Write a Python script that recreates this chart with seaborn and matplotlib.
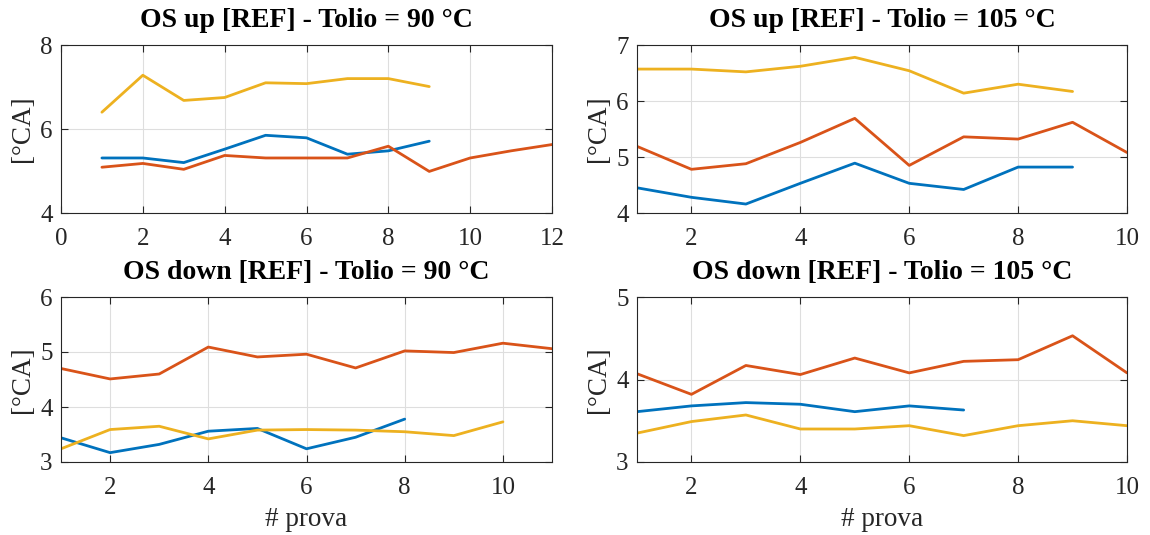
import numpy as np
import pandas as pd
import matplotlib
matplotlib.use("Agg")
import matplotlib.pyplot as plt
import seaborn as sns

# ---- data: crank-angle offsets per test run ----
# OS up, Tolio = 90 °C
up90_s1 = [5.31, 5.31, 5.20, 5.52, 5.85, 5.79, 5.40, 5.48, 5.71]
up90_s2 = [5.09, 5.18, 5.04, 5.37, 5.31, 5.31, 5.31, 5.59, 4.99, 5.31, 5.48, 5.63]
up90_s3 = [6.40, 7.28, 6.68, 6.75, 7.10, 7.08, 7.20, 7.20, 7.01]

# OS up, Tolio = 105 °C
up105_s1 = [4.45, 4.28, 4.16, 4.53, 4.89, 4.53, 4.42, 4.82, 4.82]
up105_s2 = [5.19, 4.78, 4.88, 5.26, 5.69, 4.85, 5.36, 5.32, 5.62, 5.08]
up105_s3 = [6.57, 6.57, 6.52, 6.62, 6.78, 6.54, 6.14, 6.30, 6.17]

# OS down, Tolio = 90 °C
dn90_s1 = [3.44, 3.17, 3.32, 3.56, 3.61, 3.24, 3.45, 3.78]
dn90_s2 = [4.70, 4.51, 4.60, 5.09, 4.91, 4.96, 4.71, 5.02, 4.99, 5.16, 5.06]
dn90_s3 = [3.24, 3.59, 3.65, 3.42, 3.58, 3.59, 3.58, 3.55, 3.48, 3.73]

# OS down, Tolio = 105 °C
dn105_s1 = [3.61, 3.68, 3.72, 3.70, 3.61, 3.68, 3.63]
dn105_s2 = [4.07, 3.82, 4.17, 4.06, 4.26, 4.08, 4.22, 4.24, 4.53, 4.08]
dn105_s3 = [3.35, 3.49, 3.57, 3.40, 3.40, 3.44, 3.32, 3.44, 3.50, 3.44]

titles = ["OS up [REF] - Tolio = 90 °C", "OS up [REF] - Tolio = 105 °C",
          "OS down [REF] - Tolio = 90 °C", "OS down [REF] - Tolio = 105 °C"]
xlabel = "# prova"
ylabel = "[°CA]"

panels = [
    dict(series=[up90_s1, up90_s2, up90_s3], xlim=(0, 12), xticks=[0, 2, 4, 6, 8, 10, 12],
         ylim=(4, 8), yticks=[4, 6, 8]),
    dict(series=[up105_s1, up105_s2, up105_s3], xlim=(1, 10), xticks=[2, 4, 6, 8, 10],
         ylim=(4, 7), yticks=[4, 5, 6, 7]),
    dict(series=[dn90_s1, dn90_s2, dn90_s3], xlim=(1, 11), xticks=[2, 4, 6, 8, 10],
         ylim=(3, 6), yticks=[3, 4, 5, 6]),
    dict(series=[dn105_s1, dn105_s2, dn105_s3], xlim=(1, 10), xticks=[2, 4, 6, 8, 10],
         ylim=(3, 5), yticks=[3, 4, 5]),
]

colors = ["#0072BD", "#D95319", "#EDB120"]

sns.set_style("white")
plt.rcParams["font.family"] = ["Liberation Serif", "DejaVu Serif"]

fig = plt.figure(figsize=(11.5, 5.35), dpi=100)
W, H = 1150, 535
boxes = [(61, 45, 552, 213), (637, 45, 1127, 213),
         (61, 297, 552, 462), (637, 297, 1127, 462)]

axc = "#262626"
for i, (p, (l, t, r, b)) in enumerate(zip(panels, boxes)):
    ax = fig.add_axes([l / W, 1 - b / H, (r - l) / W, (b - t) / H])
    for s, c in zip(p["series"], colors):
        df = pd.DataFrame({"run": np.arange(1, len(s) + 1), "val": s})
        sns.lineplot(data=df, x="run", y="val", color=c, linewidth=2.0, ax=ax,
                     estimator=None, sort=False)
    ax.set_xlim(*p["xlim"])
    ax.set_ylim(*p["ylim"])
    ax.set_xticks(p["xticks"])
    ax.set_yticks(p["yticks"])
    ax.grid(True, color="#dedede", linewidth=0.8)
    ax.set_axisbelow(True)
    for sp in ax.spines.values():
        sp.set_color(axc)
        sp.set_linewidth(0.8)
        sp.set_visible(True)
    ax.tick_params(direction="in", length=5, width=0.8, colors=axc,
                   top=True, right=True, bottom=True, left=True,
                   labelsize=18, labelcolor=axc)
    ax.tick_params(axis="x", pad=10.5)
    ax.tick_params(axis="y", pad=6)
    ax.set_title(titles[i], fontsize=20, fontweight="bold", color="black", pad=13)
    ax.set_ylabel(ylabel, fontsize=19.5, color=axc, labelpad=4)
    if i >= 2:
        ax.set_xlabel(xlabel, fontsize=19.5, color=axc, labelpad=6)
    else:
        ax.set_xlabel("")

fig.savefig("out.png", dpi=100, facecolor="white")
